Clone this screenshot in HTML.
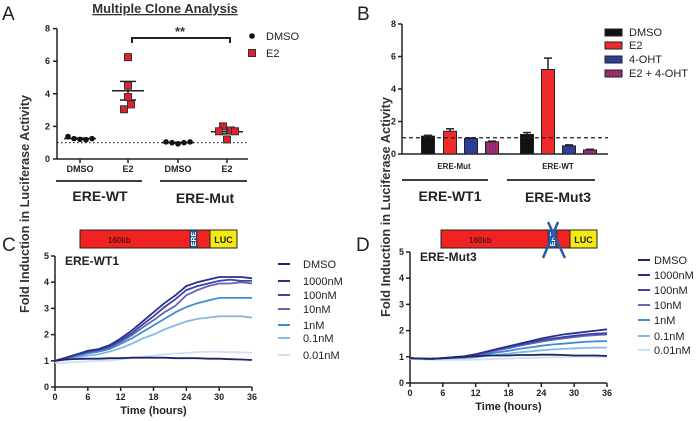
<!DOCTYPE html>
<html><head><meta charset="utf-8"><style>
html,body{margin:0;padding:0;background:#fff;}
svg{display:block;font-family:"Liberation Sans",Arial,sans-serif;}
.tk{font-size:9px;font-weight:bold;fill:#222;}
.lg{font-size:11px;fill:#222;}
</style></head><body>
<svg id="fig" width="700" height="421" viewBox="0 0 700 421">
<g>
<text x="2" y="20" font-size="19" fill="#222">A</text>
<text x="357" y="20" font-size="19" fill="#222">B</text>
<text x="2" y="251" font-size="19" fill="#222">C</text>
<text x="356" y="251" font-size="19" fill="#222">D</text>
</g>
<text x="0" y="0" transform="translate(29,204) rotate(-90)" text-anchor="middle" font-size="13" font-weight="bold" fill="#333" textLength="218" lengthAdjust="spacingAndGlyphs">Fold Induction in Luciferase Activity</text>
<text x="0" y="0" transform="translate(390,207) rotate(-90)" text-anchor="middle" font-size="12.5" font-weight="bold" fill="#333" textLength="220" lengthAdjust="spacingAndGlyphs">Fold Induction in Luciferase Activity</text>
<text x="165" y="13" text-anchor="middle" font-size="13" font-weight="bold" fill="#333" text-decoration="underline">Multiple Clone Analysis</text>
<g id="A"></g>
<g id="B"></g>
<g id="C"></g>
<g id="D"></g>
</svg>
<script>
// ---- Panel A data ----
const aCats = ["DMSO","E2","DMSO","E2"];
const aWtDmso = [1.38,1.25,1.2,1.18,1.25];
const aWtE2 = [6.25,4.5,3.8,3.35,3.05];
const aMutDmso = [1.05,1.0,0.93,1.0,1.05];
const aMutE2 = [2.0,1.7,1.75,1.7,1.2];
const aTicks = [0,2,4,6,8];
// ---- Panel B data ----
const bGroups = ["ERE-Mut","ERE-WT"];
const bSeries = ["DMSO","E2","4-OHT","E2 + 4-OHT"];
const bMeans1 = [1.1,1.4,0.95,0.75];
const bErr1 = [0.05,0.15,0.04,0.04];
const bMeans2 = [1.2,5.2,0.5,0.25];
const bErr2 = [0.12,0.7,0.06,0.04];
const bTicks = [0,2,4,6,8];
// ---- Panel C / D data (every 2 hours) ----
const hours = [0,2,4,6,8,10,12,14,16,18,20,22,24,26,28,30,32,34,36];
const doseLabels = ["DMSO","1000nM","100nM","10nM","1nM","0.1nM","0.01nM"];
const cDMSO=[1,1.05,1.07,1.08,1.08,1.1,1.1,1.12,1.12,1.12,1.12,1.1,1.1,1.1,1.08,1.08,1.06,1.05,1.03];
const c1000=[1,1.12,1.25,1.38,1.45,1.6,1.85,2.15,2.5,2.85,3.2,3.5,3.85,4.0,4.1,4.2,4.2,4.2,4.15];
const c100=[1,1.12,1.25,1.35,1.42,1.55,1.78,2.05,2.38,2.7,3.05,3.35,3.7,3.85,3.95,4.05,4.1,4.05,4.05];
const c10=[1,1.1,1.22,1.33,1.4,1.5,1.72,1.97,2.27,2.55,2.85,3.1,3.5,3.7,3.85,3.95,3.95,4.0,3.95];
const c1=[1,1.08,1.18,1.28,1.35,1.45,1.65,1.85,2.1,2.35,2.6,2.85,3.05,3.2,3.3,3.4,3.4,3.4,3.4];
const c01=[1,1.05,1.12,1.2,1.25,1.35,1.48,1.65,1.85,2.0,2.2,2.35,2.5,2.6,2.65,2.7,2.7,2.7,2.65];
const c001=[0.92,0.93,0.95,0.98,1.0,1.02,1.05,1.1,1.15,1.2,1.25,1.28,1.3,1.33,1.35,1.35,1.33,1.32,1.3];
const dDMSO=[0.95,0.93,0.93,0.95,0.98,1.0,1.02,1.05,1.05,1.05,1.07,1.07,1.08,1.08,1.07,1.05,1.05,1.05,1.03];
const d1000=[0.95,0.93,0.92,0.95,0.98,1.02,1.1,1.2,1.3,1.4,1.5,1.6,1.7,1.78,1.85,1.9,1.95,2.0,2.05];
const d100=[0.95,0.93,0.92,0.95,0.98,1.02,1.1,1.2,1.3,1.38,1.47,1.55,1.63,1.7,1.75,1.8,1.85,1.88,1.9];
const d10=[0.95,0.93,0.92,0.95,0.98,1.0,1.07,1.15,1.25,1.33,1.42,1.5,1.58,1.65,1.7,1.75,1.8,1.83,1.85];
const d1=[0.95,0.93,0.92,0.94,0.96,0.98,1.03,1.1,1.17,1.23,1.3,1.36,1.42,1.47,1.5,1.54,1.57,1.59,1.6];
const d01=[0.95,0.93,0.92,0.93,0.94,0.95,0.98,1.03,1.08,1.12,1.17,1.21,1.25,1.28,1.3,1.32,1.34,1.35,1.35];
const d001=[0.92,0.9,0.88,0.88,0.88,0.88,0.89,0.9,0.92,0.93,0.95,0.96,0.97,0.98,0.99,1.0,1.0,1.0,1.0];
const timeTicks=[0,6,12,18,24,30,36];
const foldTicks=[0,1,2,3,4,5];

const NS="http://www.w3.org/2000/svg";
function mk(parent,tag,attrs,txt){const e=document.createElementNS(NS,tag);for(const k in attrs)e.setAttribute(k,attrs[k]);if(txt!==undefined)e.textContent=txt;parent.appendChild(e);return e;}

// ===== Panel A =====
(function(){
const g=document.getElementById('A');
const y=v=>159-v*16.3;
const cx=[80,128,178,227];
mk(g,'line',{x1:57,y1:y(8),x2:57,y2:159,stroke:'#222','stroke-width':1.5});
mk(g,'line',{x1:57,y1:159,x2:248,y2:159,stroke:'#222','stroke-width':1.5});
aTicks.forEach(t=>{
 const tk=mk(g,'line',{x1:53,y1:y(t),x2:57,y2:y(t),stroke:'#222','stroke-width':1.5});
 
 
 const l=mk(g,'text',{x:50,y:y(t)+3,'text-anchor':'end',class:'tk'},t);
 
 
});
aCats.forEach((c,i)=>{
 mk(g,'line',{x1:cx[i],y1:159,x2:cx[i],y2:163,stroke:'#222','stroke-width':1.5});
 const l=mk(g,'text',{x:cx[i],y:172,'text-anchor':'middle',class:'tk'},c);
 
 
});
mk(g,'line',{x1:57,y1:y(1),x2:248,y2:y(1),stroke:'#222','stroke-width':1.2,'stroke-dasharray':'1.5,2.5'});
const groups=[[aWtDmso,0,'dot'],[aWtE2,1,'sq'],[aMutDmso,2,'dot'],[aMutE2,3,'sq']];
const off=[-12,-6,0,6,12];
groups.forEach(([arr,i,kind])=>{
 const mean=arr.reduce((a,b)=>a+b,0)/arr.length;
 const sd=Math.sqrt(arr.reduce((a,b)=>a+(b-mean)**2,0)/(arr.length-1));
 const sem=sd/Math.sqrt(arr.length);
 mk(g,'line',{x1:cx[i]-16,y1:y(mean),x2:cx[i]+16,y2:y(mean),stroke:'#222','stroke-width':1.5});
 mk(g,'line',{x1:cx[i]-8,y1:y(mean+sem),x2:cx[i]+8,y2:y(mean+sem),stroke:'#222','stroke-width':1.5});
 mk(g,'line',{x1:cx[i]-8,y1:y(mean-sem),x2:cx[i]+8,y2:y(mean-sem),stroke:'#222','stroke-width':1.5});
 mk(g,'line',{x1:cx[i],y1:y(mean+sem),x2:cx[i],y2:y(mean-sem),stroke:'#222','stroke-width':1.5});
 arr.forEach((v,j)=>{
  let p;
  if(kind==='dot'){p=mk(g,'circle',{cx:cx[i]+off[j],cy:y(v),r:2.8,fill:'#111'});}
  else{const xx=i==1?[0,0,0,3,-4][j]:[-4,-8,4,8,0][j];p=mk(g,'rect',{x:cx[i]+xx-3.5,y:y(v)-3.5,width:7,height:7,fill:'#e0202a',stroke:'#333','stroke-width':1});}
  
  
 });
});
mk(g,'path',{d:'M132 43 V38 H230 V43',fill:'none',stroke:'#222','stroke-width':2});
mk(g,'text',{x:180,y:36,'text-anchor':'middle','font-size':13,'font-weight':'bold',fill:'#333'},'**');
mk(g,'line',{x1:56,y1:181,x2:142,y2:181,stroke:'#222','stroke-width':1.8});
mk(g,'line',{x1:160,y1:181,x2:247,y2:181,stroke:'#222','stroke-width':1.8});
mk(g,'text',{x:100,y:201,'text-anchor':'middle','font-size':14,'font-weight':'bold',fill:'#222'},'ERE-WT');
mk(g,'text',{x:205,y:203,'text-anchor':'middle','font-size':14,'font-weight':'bold',fill:'#222'},'ERE-Mut');
mk(g,'circle',{cx:252,cy:36,r:2.8,fill:'#111'});
mk(g,'text',{x:266,y:40,class:'lg'},'DMSO');
mk(g,'rect',{x:248.5,y:49.5,width:7,height:7,fill:'#e0202a',stroke:'#333'});
mk(g,'text',{x:266,y:57,class:'lg'},'E2');
})();

// ===== Panel B =====
(function(){
const g=document.getElementById('B');
const y=v=>154-v*16.25;
const x1=[428,450,471,492], x2=[527,548,569,590];
const fills=['#111','#ee2a2a','#2a3e9a','url(#stripe)'];
const defs=mk(g,'defs',{});
const pat=mk(defs,'pattern',{id:'stripe',width:3,height:4,patternUnits:'userSpaceOnUse'});
mk(pat,'rect',{x:0,y:0,width:3,height:4,fill:'#d8204a'});
mk(pat,'rect',{x:0,y:0,width:1.3,height:4,fill:'#4a3a9a'});
mk(g,'line',{x1:402,y1:y(8),x2:402,y2:154,stroke:'#222','stroke-width':1.5});
mk(g,'line',{x1:402,y1:154,x2:608,y2:154,stroke:'#222','stroke-width':1.5});
bTicks.forEach(t=>{
 mk(g,'line',{x1:398,y1:y(t),x2:402,y2:y(t),stroke:'#222','stroke-width':1.5});
 const l=mk(g,'text',{x:396,y:y(t)+3,'text-anchor':'end',class:'tk'},t);
 
 
});
[[bMeans1,bErr1,x1],[bMeans2,bErr2,x2]].forEach(([m,e,xs])=>{
 m.forEach((v,i)=>{
  mk(g,'line',{x1:xs[i],y1:y(v+e[i]),x2:xs[i],y2:y(v),stroke:'#222','stroke-width':1.5});
  mk(g,'line',{x1:xs[i]-4,y1:y(v+e[i]),x2:xs[i]+4,y2:y(v+e[i]),stroke:'#222','stroke-width':1.5});
  const b=mk(g,'rect',{x:xs[i]-6.5,y:y(v),width:13,height:154-y(v),fill:fills[i],stroke:'#222','stroke-width':1});
  
  
 });
});
mk(g,'line',{x1:402,y1:y(1),x2:608,y2:y(1),stroke:'#222','stroke-width':1.3,'stroke-dasharray':'4,3'});
mk(g,'text',{x:454,y:169,'text-anchor':'middle','font-size':8,'font-weight':'bold',fill:'#222'},bGroups[0]);
mk(g,'text',{x:558,y:169,'text-anchor':'middle','font-size':8,'font-weight':'bold',fill:'#222'},bGroups[1]);
mk(g,'line',{x1:402,y1:180,x2:488,y2:180,stroke:'#222','stroke-width':1.8});
mk(g,'line',{x1:507,y1:180,x2:595,y2:180,stroke:'#222','stroke-width':1.8});
mk(g,'text',{x:450,y:201,'text-anchor':'middle','font-size':14,'font-weight':'bold',fill:'#222'},'ERE-WT1');
mk(g,'text',{x:558,y:202,'text-anchor':'middle','font-size':14,'font-weight':'bold',fill:'#222'},'ERE-Mut3');
const ly=[32,45,59,73];
bSeries.forEach((s,i)=>{
 const sw=mk(g,'rect',{x:605,y:ly[i]-3,width:17,height:7,fill:fills[i],stroke:'#222','stroke-width':1});
 
 
 const t=mk(g,'text',{x:629,y:ly[i]+4,class:'lg'},s);
 
 
});
})();

// ===== Panels C/D =====
const colors=['#22226a','#27308e','#3c44a4','#6d62b8','#3d8fd2','#86b8e2','#cfe0f2'];
function linePanel(id,ax,ay0,ay5,ax36,series,diag,title,legX,legTx,legY){
 const g=document.getElementById(id);
 const x=t=>ax+(ax36-ax)*t/36, y=v=>ay0-(ay0-ay5)*v/5;
 mk(g,'line',{x1:ax,y1:ay5,x2:ax,y2:ay0,stroke:'#222','stroke-width':1.5});
 mk(g,'line',{x1:ax,y1:ay0,x2:ax36,y2:ay0,stroke:'#222','stroke-width':1.5});
 foldTicks.forEach(t=>{
  mk(g,'line',{x1:ax-4,y1:y(t),x2:ax,y2:y(t),stroke:'#222','stroke-width':1.5});
  const l=mk(g,'text',{x:ax-6,y:y(t)+3,'text-anchor':'end',class:'tk'},t);
  
  
 });
 timeTicks.forEach(t=>{
  mk(g,'line',{x1:x(t),y1:ay0,x2:x(t),y2:ay0+4,stroke:'#222','stroke-width':1.5});
  const l=mk(g,'text',{x:x(t),y:ay0+13,'text-anchor':'middle',class:'tk'},t);
  
  
 });
 mk(g,'text',{x:(ax+ax36)/2,y:ay0+27,'text-anchor':'middle','font-size':11,'font-weight':'bold',fill:'#222'},'Time (hours)');
 mk(g,'text',{x:ax+10,y:y(4.65),'font-size':12,'font-weight':'bold',fill:'#222'},title);
 for(let s=series.length-1;s>=0;s--){
  const d=hours.map((h,i)=>(i?'L':'M')+x(h).toFixed(1)+' '+y(series[s][i]).toFixed(1)).join(' ');
  const p=mk(g,'path',{d:d,fill:'none',stroke:colors[s],'stroke-width':1.8});
  
  
 }
 doseLabels.forEach((lab,i)=>{
  mk(g,'line',{x1:legX,y1:legY[i],x2:legX+12,y2:legY[i],stroke:colors[i],'stroke-width':2});
  const t=mk(g,'text',{x:legTx,y:legY[i]+4,class:'lg'},lab);
  
  
 });
 const [dx0,dERE,dERE2,dLuc,dx1,dy0,dy1]=diag;
 mk(g,'rect',{x:dx0,y:dy0,width:dLuc-dx0,height:dy1-dy0,fill:'#f02222',stroke:'#222','stroke-width':1});
 mk(g,'rect',{x:dERE,y:dy0,width:dERE2-dERE,height:dy1-dy0,fill:'#1f5a9a',stroke:'#222','stroke-width':0.5});
 mk(g,'rect',{x:dLuc,y:dy0,width:dx1-dLuc,height:dy1-dy0,fill:'#f2ea10',stroke:'#222','stroke-width':1});
 mk(g,'text',{x:dx0+28,y:dy0+13,'font-size':8,'font-weight':'bold',fill:'#5a1010'},'160kb');
 mk(g,'text',{x:(dLuc+dx1)/2,y:dy0+13,'text-anchor':'middle','font-size':9,'font-weight':'bold',fill:'#222'},'LUC');
 mk(g,'text',{x:0,y:0,transform:`translate(${(dERE+dERE2)/2+2.5},${(dy0+dy1)/2}) rotate(-90)`,'text-anchor':'middle','font-size':7,'font-weight':'bold',fill:'#fff'},'ERE');
 return g;
}
linePanel('C',55,387,256,252,[cDMSO,c1000,c100,c10,c1,c01,c001],[80,190,197,210,237,230,248],'ERE-WT1',278,303,[264,281,295,309,325,338,355]);
const gD=linePanel('D',410,383,252,607,[dDMSO,d1000,d100,d10,d1,d01,d001],[441,548,557,570,597,230,248],'ERE-Mut3',638,654,[260,275,290,305,320,336,350]);
mk(gD,'line',{x1:558,y1:222,x2:543,y2:258,stroke:'#2a5aa8','stroke-width':2.5});
mk(gD,'line',{x1:548,y1:222,x2:565,y2:258,stroke:'#2a5aa8','stroke-width':2.5});
</script>
</body></html>
